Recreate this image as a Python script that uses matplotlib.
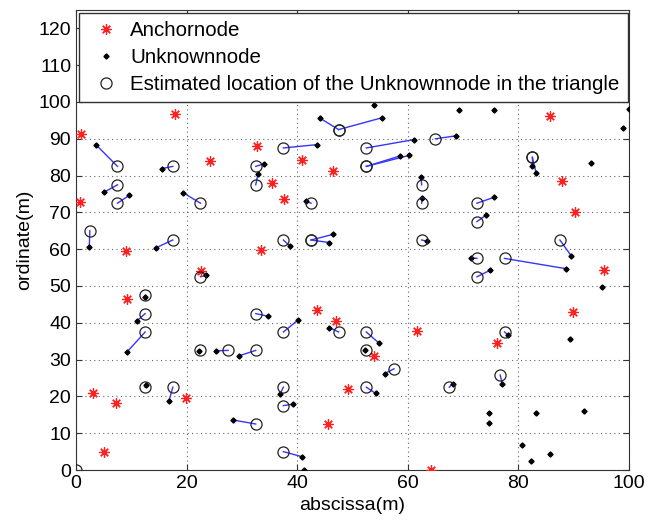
import numpy as np
import matplotlib
matplotlib.use("Agg")
import matplotlib.pyplot as plt

plt.rcParams['font.family'] = ['Liberation Sans', 'DejaVu Sans']

# anchor nodes (red asterisks)
anchor_x = [0.9, 17.9, 24.2, 32.7, 40.9, 46.5, 35.5, 37.7, 0.7, 9.0, 33.4, 22.6, 9.2, 43.6, 47.1,
            53.9, 61.7, 76.2, 3.1, 7.2, 5.1, 19.9, 49.1, 45.6, 64.2, 85.8, 87.9, 90.3, 95.5, 89.9]
anchor_y = [91.2, 96.7, 83.9, 88.0, 84.2, 81.3, 78.1, 73.6, 72.7, 59.5, 59.8, 54.1, 46.5, 43.5, 40.5,
            31.0, 37.8, 34.6, 20.8, 18.1, 4.9, 19.5, 22.0, 12.6, 0.0, 96.2, 78.5, 70.0, 54.3, 43.0]

# unknown nodes that got an estimate, paired with the estimate
unk_x = [3.6, 15.5, 43.5, 44.1, 55.3, 61.2, 58.5, 60.3, 34.0, 32.9, 5.1, 68.7, 82.5, 83.2, 62.4,
         9.6, 19.3, 41.6, 2.4, 14.5, 38.7, 46.4, 45.8, 23.5, 12.5, 11.0, 9.3, 34.7, 40.1, 45.8,
         54.7, 52.3, 22.2, 25.4, 29.4, 62.6, 75.6, 74.1, 63.4, 71.5, 74.9, 88.6, 89.6, 78.1,
         12.6, 16.8, 28.4, 36.9, 39.3, 40.9, 54.2, 55.8, 68.1, 77.1]
unk_y = [88.4, 81.9, 88.4, 95.6, 95.7, 89.8, 85.3, 85.5, 83.2, 80.4, 75.5, 90.8, 82.7, 80.8, 79.5,
         74.6, 75.4, 73.0, 60.6, 60.4, 60.8, 64.0, 61.8, 52.9, 47.0, 40.5, 32.2, 41.8, 40.7, 38.7,
         34.6, 32.6, 32.4, 32.4, 31.0, 73.8, 74.1, 69.2, 62.2, 57.6, 54.3, 54.7, 58.1, 36.7,
         23.0, 18.7, 13.6, 20.7, 17.9, 3.6, 20.8, 26.2, 23.5, 23.4]
est_x = [7.5, 17.5, 37.5, 47.5, 47.5, 52.5, 52.5, 52.5, 32.5, 32.5, 7.5, 65.0, 82.5, 82.5, 62.5,
         7.5, 22.5, 42.5, 2.5, 17.5, 37.5, 42.5, 42.5, 22.5, 12.5, 12.5, 12.5, 32.5, 37.5, 47.5,
         52.5, 52.5, 22.5, 27.5, 32.5, 62.5, 72.5, 72.5, 62.5, 72.5, 72.5, 77.5, 87.5, 77.5,
         12.5, 17.5, 32.5, 37.5, 37.5, 37.5, 52.5, 57.5, 67.5, 76.7]
est_y = [82.5, 82.5, 87.5, 92.5, 92.5, 87.5, 82.5, 82.5, 82.5, 77.5, 77.5, 90.0, 85.0, 85.0, 77.5,
         72.5, 72.5, 72.5, 65.0, 62.5, 62.5, 62.5, 62.5, 52.5, 47.5, 42.5, 37.5, 42.5, 37.5, 37.5,
         37.5, 32.5, 32.5, 32.5, 32.5, 72.5, 72.5, 67.5, 62.5, 57.5, 52.5, 57.5, 62.5, 37.5,
         22.5, 22.5, 12.5, 22.5, 17.5, 5.0, 22.5, 27.5, 22.5, 25.8]

# unknown nodes without a triangle estimate
lone_x = [53.9, 69.3, 75.6, 100.0, 99.0, 93.2, 95.2, 89.4, 74.7, 74.7, 83.2, 91.9, 80.6, 82.3, 85.8, 41.2]
lone_y = [99.1, 97.7, 97.7, 98.0, 92.8, 83.3, 49.7, 35.6, 15.6, 12.7, 15.6, 16.1, 6.7, 2.5, 4.3, 0.0]
lone_est_x = [0.0]
lone_est_y = [0.0]

fig = plt.figure(figsize=(6.61, 5.24), dpi=100)
ax = fig.add_axes([0.115, 0.103, 0.8366, 0.878])

for ex, ey, ux, uy in zip(est_x, est_y, unk_x, unk_y):
    ax.plot([ex, ux], [ey, uy], color="#3535ff", lw=1.0, zorder=2)

star = (8, 2, 0)
h1, = ax.plot(anchor_x, anchor_y, linestyle="none", marker=star, ms=7.5, mew=0.9,
              color="#ff2020", label="Anchornode", zorder=3)
h2, = ax.plot(unk_x + lone_x, unk_y + lone_y, linestyle="none", marker="D", ms=2.6,
              color="black", label="Unknownnode", zorder=4)
h3, = ax.plot(est_x + lone_est_x, est_y + lone_est_y, linestyle="none", marker="o", ms=8,
              mfc="none", mec="#222222", mew=0.9,
              label="Estimated location of the Unknownnode in the triangle", zorder=5)

ax.set_xlim(0, 100)
ax.set_ylim(0, 125)
ax.set_xticks(np.arange(0, 101, 20))
ax.set_yticks(np.arange(0, 121, 10))
ax.grid(True, linestyle=(0, (1, 3)), color="#666666", lw=0.8)
ax.tick_params(direction="in", top=True, right=True, labelsize=14, length=4, color="#333333")
for s in ax.spines.values():
    s.set_color("#333333")

ax.set_xlabel("abscissa(m)", fontsize=14)
ax.set_ylabel("ordinate(m)", fontsize=14)

leg = ax.legend(handles=[h1, h2, h3], loc="upper left", fontsize=14.75, fancybox=False,
                framealpha=1, edgecolor="#333333", borderaxespad=0.15, handlelength=1.85,
                handletextpad=0.25, labelspacing=0.38, borderpad=0.4)
leg.get_frame().set_linewidth(1.0)

fig.savefig("out.png", dpi=100)
